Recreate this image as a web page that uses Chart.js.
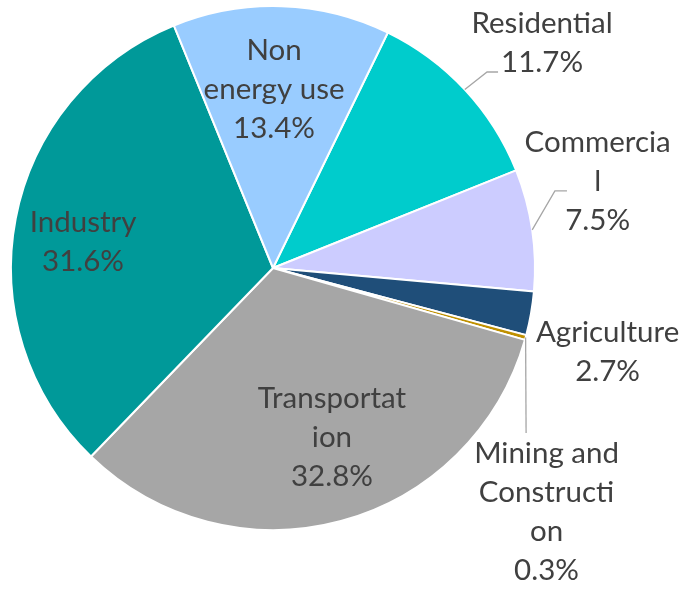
<!DOCTYPE html>
<html>
<head>
<meta charset="utf-8">
<script src="https://cdn.jsdelivr.net/npm/chart.js@4.4.1/dist/chart.umd.min.js"></script>
<style>
  html, body { margin: 0; padding: 0; background: #ffffff; }
  #wrap { width: 684px; height: 589px; position: relative; }
</style>
</head>
<body>
<div id="wrap"><canvas id="c" width="684" height="589"></canvas></div>
<script>
// ---- data ----
const categories = ["Residential", "Commercial", "Agriculture", "Mining and Construction", "Transportation", "Industry", "Non energy use"];
const shares = [11.7, 7.5, 2.7, 0.3, 32.8, 31.6, 13.4];
// label text as wrapped in the reference
const labelLines = [
  ["Residential"],
  ["Commercia", "l"],
  ["Agriculture"],
  ["Mining and", "Constructi", "on"],
  ["Transportat", "ion"],
  ["Industry"],
  ["Non", "energy use"]
];
const sliceColors = ["#00CCCC", "#CCCCFF", "#1F4E79", "#BF9000", "#A6A6A6", "#009999", "#99CCFF"];

// label placement relative to pie centre, in units of the radius
const labelAnchor = [
  [1.027, -0.861], [1.239, -0.332], [1.277, 0.319], [1.044, 0.931],
  [0.225, 0.645], [-0.725, -0.103], [0.004, -0.682]
];
// leader line points after the arc edge point (null = no leader)
const leaderPts = [
  [[0.817, -0.748], [0.859, -0.748]],
  [[1.076, -0.294], [1.122, -0.294]],
  null,
  [[0.966, 0.630]],
  null, null, null
];

const FONT = '29.5px Lato, "Open Sans", sans-serif';
const LINE_H = 39;

const labelPlugin = {
  id: 'pieLabels',
  afterDatasetsDraw(chart) {
    const ctx = chart.ctx;
    const meta = chart.getDatasetMeta(0);
    ctx.save();
    meta.data.forEach((arc, i) => {
      const p = arc.getProps(['x', 'y', 'startAngle', 'endAngle', 'outerRadius'], true);
      const R = p.outerRadius;
      const mid = (p.startAngle + p.endAngle) / 2;
      if (leaderPts[i]) {
        ctx.beginPath();
        ctx.strokeStyle = '#A6A6A6';
        ctx.lineWidth = 1.3;
        ctx.moveTo(p.x + Math.cos(mid) * R, p.y + Math.sin(mid) * R);
        leaderPts[i].forEach(pt => ctx.lineTo(p.x + pt[0] * R, p.y + pt[1] * R));
        ctx.stroke();
      }
      const lines = labelLines[i].concat([shares[i].toFixed(1) + '%']);
      const cx = p.x + labelAnchor[i][0] * R;
      const cy = p.y + labelAnchor[i][1] * R;
      ctx.font = FONT;
      ctx.fillStyle = '#404040';
      ctx.textAlign = 'center';
      ctx.textBaseline = 'alphabetic';
      const n = lines.length;
      lines.forEach((t, k) => {
        ctx.fillText(t, cx, cy + (k - (n - 1) / 2) * LINE_H + 10);
      });
    });
    ctx.restore();
  }
};

new Chart(document.getElementById('c'), {
  type: 'pie',
  data: {
    labels: categories,
    datasets: [{
      data: shares,
      backgroundColor: sliceColors,
      borderColor: '#FFFFFF',
      borderWidth: 2
    }]
  },
  options: {
    responsive: false,
    animation: false,
    rotation: 26,
    layout: { padding: { left: 10, right: 148, top: 5, bottom: 58 } },
    plugins: {
      legend: { display: false },
      tooltip: { enabled: false }
    }
  },
  plugins: [labelPlugin]
});
</script>
</body>
</html>
